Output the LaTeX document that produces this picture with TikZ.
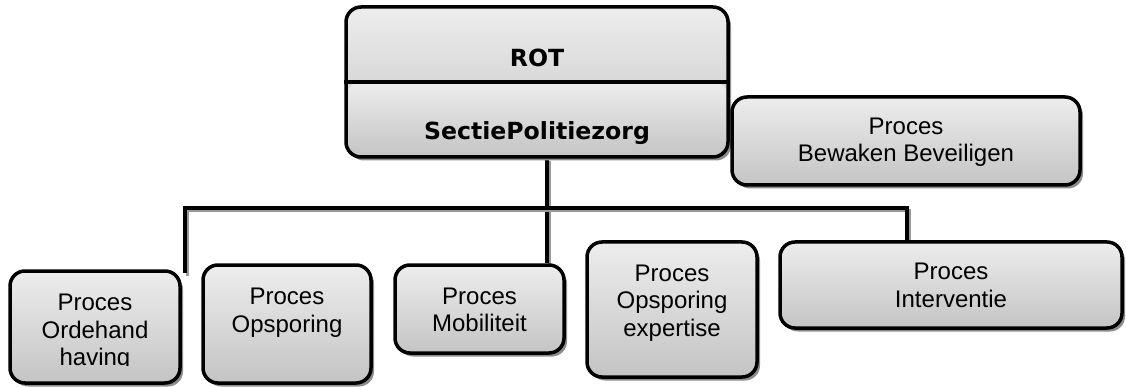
\documentclass[tikz,border=0pt]{standalone}
\usepackage{fontspec}
\setmainfont{Liberation Sans}
\newfontfamily\rotfont{DejaVu Sans}
\usetikzlibrary{shadows,backgrounds}
\definecolor{gtop}{HTML}{EDEDED}
\definecolor{gbot}{HTML}{C4C4C4}

\begin{document}
\begin{tikzpicture}[x=1pt,y=-1pt,
		box/.style={rectangle,rounded corners=15pt,draw=black,line width=3.5pt,top color=gtop,bottom color=gbot,inner sep=0pt,
			drop shadow={shadow xshift=3pt,shadow yshift=-3.5pt,fill=black!45,opacity=1}},
		txt/.style={align=center,inner sep=0pt,anchor=north,font=\fontsize{24}{27.5}\selectfont},
		hdr/.style={inner sep=0pt,anchor=base,font=\rotfont\bfseries\fontsize{23.6}{27}\selectfont},
		conn/.style={line width=3.5pt,preaction={draw=black!40,line width=3.5pt,transform canvas={shift={(2.5pt,-2.5pt)}}}}]
			\useasboundingbox (0,0) rectangle (1126,387);
			% top box, two halves
			\node[box,minimum width=382,minimum height=150,path picture={
				\shade[top color=gtop,bottom color=gbot] (path picture bounding box.north west) rectangle (path picture bounding box.east);
				\shade[top color=gtop,bottom color=gbot] (path picture bounding box.west) rectangle (path picture bounding box.south east);}] (rot) at (537,82) {};
			\draw[line width=3.5pt] (rot.west) -- (rot.east);
			\node[hdr] (rottitle) at ([yshift=15pt]rot.center) {ROT};
			\node[hdr] (sectie) at ([yshift=-58pt]rot.center) {SectiePolitiezorg};
			% processes
			\node[box,minimum width=348,minimum height=88] (bew) at (906,141) {};
			\node[box,minimum width=170,minimum height=112] (orde) at (95,327) {};
			\node[box,minimum width=168,minimum height=118] (opsp) at (287,324) {};
			\node[box,minimum width=169,minimum height=88] (mob) at (479.5,309) {};
			\node[box,minimum width=170,minimum height=135] (expert) at (672,309.5) {};
			\node[box,minimum width=342,minimum height=86] (inter) at (951,285) {};
			\node[txt] (bewtxt) at ([yshift=-22.5pt]bew.north) {Proces\\Bewaken Beveiligen};
			\begin{scope}
				\clip (orde.north west) rectangle ([yshift=19pt]orde.south east);
				\node[txt] (ordetxt) at ([yshift=-25pt]orde.north) {Proces\\Ordehand\\having};
			\end{scope}
			\node[txt] (opsptxt) at ([yshift=-25pt]opsp.north) {Proces\\Opsporing};
			\node[txt] (mobtxt) at ([yshift=-24.5pt]mob.north) {Proces\\Mobiliteit};
			\node[txt] (experttxt) at ([yshift=-24.5pt]expert.north) {Proces\\Opsporing\\expertise};
			\node[txt] (intertxt) at ([yshift=-23pt]inter.north) {Proces\\Interventie};
			% lines
			\coordinate (busL) at (185,273);
			\coordinate (bus) at (547,208);
			\begin{scope}[on background layer]
				\draw[conn] ([xshift=10pt]rot.south) -- ([xshift=10pt]rot.south |- mob.north);
				\draw[conn] (busL) |- (bus) -| ([xshift=-44pt]inter.north);
			\end{scope}
		\end{tikzpicture}
\end{document}
